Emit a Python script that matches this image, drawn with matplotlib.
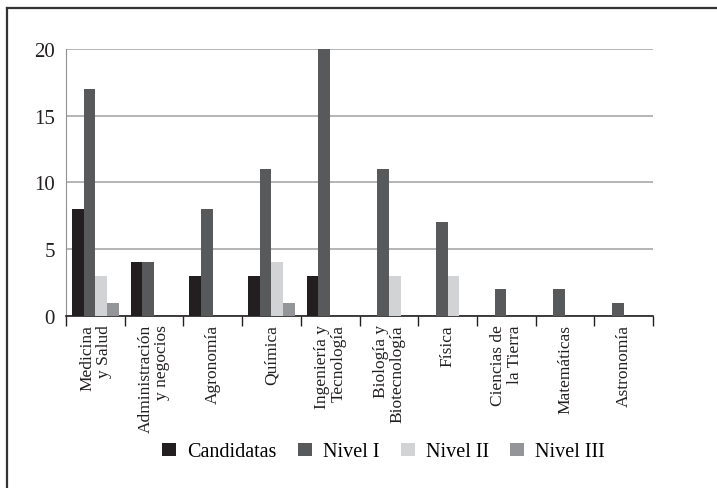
import matplotlib
matplotlib.use("Agg")
import matplotlib.pyplot as plt
from matplotlib.lines import Line2D
import numpy as np

plt.rcParams['font.family'] = ['Liberation Serif', 'DejaVu Serif']

areas = ['Medicina\ny Salud', 'Administración\ny negocios', 'Agronomía',
         'Química', 'Ingeniería y\nTecnología', 'Biología y\nBiotecnología',
         'Física', 'Ciencias de\nla Tierra', 'Matemáticas', 'Astronomía']
candidatas = [8, 4, 3, 3, 3, 0, 0, 0, 0, 0]
nivel1 = [17, 4, 8, 11, 20, 11, 7, 2, 2, 1]
nivel2 = [3, 0, 0, 4, 0, 3, 3, 0, 0, 0]
nivel3 = [1, 0, 0, 1, 0, 0, 0, 0, 0, 0]

series = [('Candidatas', candidatas, '#231f20'),
          ('Nivel I', nivel1, '#58595b'),
          ('Nivel II', nivel2, '#d1d3d4'),
          ('Nivel III', nivel3, '#939598')]

fig = plt.figure(figsize=(7.17, 4.89), dpi=100)
ax = fig.add_axes([0.092, 0.352, 0.819, 0.546])

x = np.arange(len(areas))
w = 0.2
for i, (name, vals, col) in enumerate(series):
    ax.bar(x + (i - 1.5) * w, vals, w, color=col, label=name, zorder=3)

ax.set_xlim(-0.5, len(areas) - 0.5)
ax.set_ylim(0, 20)
ax.set_yticks([0, 5, 10, 15, 20])
ax.tick_params(axis='y', length=0, pad=8, labelsize=15, colors='#231f20')
ax.yaxis.grid(True, color='#a0a0a0', linewidth=1.1, zorder=0)

# category names centred, separators as minor ticks
ax.set_xticks(x)
ax.set_xticklabels(areas, rotation=90, fontsize=12.5, ha='center', va='top',
                   multialignment='right', linespacing=1.05, color='#231f20')
ax.tick_params(axis='x', which='major', length=0, pad=6)
ax.set_xticks(np.arange(-0.5, len(areas)), minor=True)
ax.tick_params(axis='x', which='minor', length=7, width=1, color='#231f20')

for s in ['top', 'right']:
    ax.spines[s].set_visible(False)
ax.spines['left'].set_color('#909090')
ax.spines['bottom'].set_color('#231f20')
ax.spines['bottom'].set_linewidth(1.2)

fig.legend(loc='center', bbox_to_anchor=(0.535, 0.074), ncol=4, frameon=False,
           fontsize=14.5, handlelength=0.7, handleheight=0.65,
           handletextpad=0.55, columnspacing=1.05)

# frame around the figure (top and left edges)
fig.add_artist(Line2D([0.010, 0.010], [0.0, 0.982], color='#333333', linewidth=1.6))
fig.add_artist(Line2D([0.010, 1.0], [0.982, 0.982], color='#333333', linewidth=1.6))

fig.savefig('out.png', dpi=100)
